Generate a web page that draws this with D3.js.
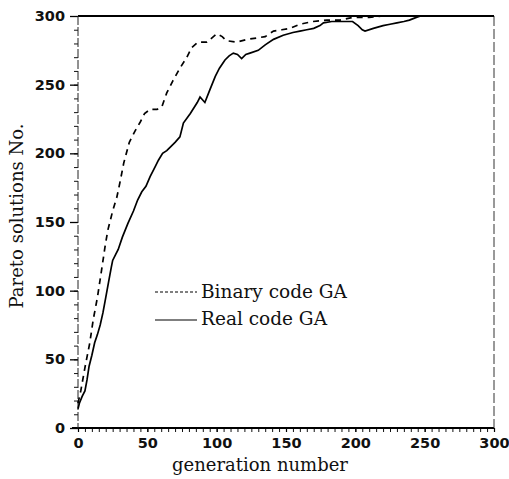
<!DOCTYPE html>
<html>
<head>
<meta charset="utf-8">
<script src="https://cdn.jsdelivr.net/npm/d3@7"></script>
<style>
  html, body { margin: 0; padding: 0; background: #fff; }
  svg { display: block; }
</style>
</head>
<body>
<svg id="chart" width="509" height="479"></svg>
<script>
// ---- data ----
const xTicks = [0, 50, 100, 150, 200, 250, 300];
const yTicks = [0, 50, 100, 150, 200, 250, 300];
const seriesNames = ["Binary code GA", "Real code GA"];

const binaryGen = [0, 2, 5, 8.5, 11, 14, 17, 19.5, 21.5, 25, 28, 30.5, 33, 37, 41, 45, 48, 52, 57, 60.5, 64, 68.5, 73.5, 78.5, 82, 86.5, 93, 100, 104, 107, 114.5, 122, 129, 135, 141, 147, 153, 160, 169.5, 179.5, 189, 198, 210, 220, 227, 300];
const binaryVal = [18, 27, 44, 62, 79, 95, 115, 132, 144, 158, 168, 180, 193, 208, 216, 223, 229, 232, 232, 234, 244, 253, 262, 270, 277, 281, 281, 287, 285, 282, 281, 283, 284, 285, 289, 290, 291, 294, 296, 297, 297, 299, 299, 300, 300, 300];

const realGen = [0, 1, 3, 5, 6.5, 8, 10, 12, 14, 16, 18, 20, 22, 24, 25, 27, 29, 32, 36, 40, 43, 46, 49, 52, 55.5, 58, 61, 64, 66, 70, 73.5, 76, 81, 86, 88, 91.5, 95, 99, 102, 106, 109, 112, 115, 118, 121, 124, 130, 135, 141, 148, 155, 160, 165, 170, 174.5, 177, 183, 189, 198, 202, 205, 207, 213, 220, 225, 230, 235, 239, 244, 247, 300];
const realVal = [14, 18, 23, 27, 35, 45, 53, 62, 68, 75, 84, 95, 106, 117, 122, 126, 130, 139, 149, 158, 166, 172, 176, 183, 190, 195, 200, 202, 204, 208, 212, 222, 229, 237, 241, 237, 246, 256, 262, 268, 271, 273, 272, 269, 272, 273, 275, 279, 283, 286, 288, 289, 290, 291, 293, 295, 296, 296, 296, 293, 290, 289, 291, 293, 294, 295, 296, 297, 299, 300, 300];

// ---- drawing ----
const svg = d3.select("#chart");
const x = d3.scaleLinear().domain([0, 300]).range([78, 494]);
const y = d3.scaleLinear().domain([0, 300]).range([428, 16]);

const tickFont = "'DejaVu Sans', sans-serif";
const serif = "'DejaVu Serif', serif";

// minor ticks
const yMinor = d3.range(0, 301, 10);
const xMinor = d3.range(0, 301, 5);

svg.append("g")
  .attr("transform", `translate(${x(0)},0)`)
  .call(d3.axisLeft(y).tickValues(yMinor).tickSize(4).tickFormat(""))
  .call(g => g.select(".domain").remove())
  .call(g => g.selectAll("line").attr("stroke", "#111").attr("stroke-width", 1));

svg.append("g")
  .attr("transform", `translate(0,${y(0)})`)
  .call(d3.axisBottom(x).tickValues(xMinor).tickSize(4).tickFormat(""))
  .call(g => g.select(".domain").remove())
  .call(g => g.selectAll("line").attr("stroke", "#111").attr("stroke-width", 1));

// major y axis
svg.append("g")
  .attr("transform", `translate(${x(0)},0)`)
  .call(d3.axisLeft(y).tickValues(yTicks).tickSize(8).tickPadding(5).tickFormat(d3.format("d")))
  .call(g => g.select(".domain").remove())
  .call(g => g.selectAll("line").attr("stroke", "#000").attr("stroke-width", 1.3))
  .call(g => g.selectAll("text").attr("font-family", tickFont).attr("font-weight", "bold")
      .attr("font-size", "14.5px").attr("fill", "#111"));

// major x axis
svg.append("g")
  .attr("transform", `translate(0,${y(0)})`)
  .call(d3.axisBottom(x).tickValues(xTicks).tickSize(4).tickPadding(6).tickFormat(d3.format("d")))
  .call(g => g.select(".domain").remove())
  .call(g => g.selectAll("line").attr("stroke", "#000").attr("stroke-width", 1.2))
  .call(g => g.selectAll("text").attr("font-family", tickFont).attr("font-weight", "bold")
      .attr("font-size", "14.5px").attr("fill", "#111"));

// frame
svg.append("line").attr("x1", x(0)).attr("x2", x(300)).attr("y1", y(300)).attr("y2", y(300))
  .attr("stroke", "#000").attr("stroke-width", 2);
svg.append("line").attr("x1", x(0) - 6).attr("x2", x(300)).attr("y1", y(0)).attr("y2", y(0))
  .attr("stroke", "#000").attr("stroke-width", 2);
svg.append("line").attr("x1", x(0)).attr("x2", x(0)).attr("y1", y(300)).attr("y2", y(0))
  .attr("stroke", "#222").attr("stroke-width", 1).attr("stroke-dasharray", "9,2");
svg.append("line").attr("x1", x(300)).attr("x2", x(300)).attr("y1", y(300)).attr("y2", y(0))
  .attr("stroke", "#333").attr("stroke-width", 1).attr("stroke-dasharray", "10,3");

// lines
const line = d3.line().x(d => x(d[0])).y(d => y(d[1]));
const binaryPts = binaryGen.map((g, i) => [g, binaryVal[i]]);
const realPts = realGen.map((g, i) => [g, realVal[i]]);

svg.append("path").datum(binaryPts)
  .attr("d", line).attr("fill", "none").attr("stroke", "#000")
  .attr("stroke-width", 1.7).attr("stroke-dasharray", "6,5");

svg.append("path").datum(realPts)
  .attr("d", line).attr("fill", "none").attr("stroke", "#000")
  .attr("stroke-width", 1.7);

// legend
const legend = svg.append("g");
const legendRows = [
  { name: seriesNames[0], dash: "3,2", ly: 292, ty: 298 },
  { name: seriesNames[1], dash: null, ly: 320, ty: 325 }
];
legendRows.forEach(r => {
  const l = legend.append("line").attr("x1", 155).attr("x2", 197)
    .attr("y1", r.ly).attr("y2", r.ly).attr("stroke", "#000").attr("stroke-width", 1.2);
  if (r.dash) l.attr("stroke-dasharray", r.dash);
  legend.append("text").attr("x", 201).attr("y", r.ty)
    .attr("font-family", serif).attr("font-size", "18.5px").attr("fill", "#111")
    .text(r.name);
});

// axis titles
svg.append("text")
  .attr("x", 260).attr("y", 471)
  .attr("text-anchor", "middle")
  .attr("font-family", serif).attr("font-size", "18px").attr("fill", "#111")
  .text("generation number");

svg.append("text")
  .attr("transform", "translate(23,216) rotate(-90)")
  .attr("text-anchor", "middle")
  .attr("font-family", serif).attr("font-size", "18px").attr("fill", "#111")
  .text("Pareto solutions No.");
</script>
</body>
</html>
